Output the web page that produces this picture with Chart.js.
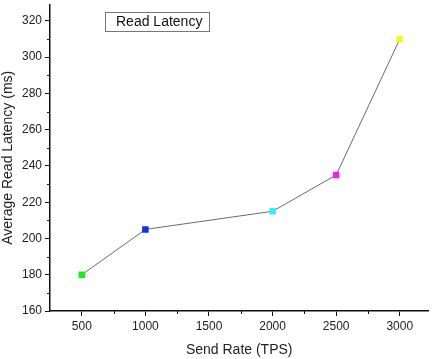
<!DOCTYPE html>
<html>
<head>
<meta charset="utf-8">
<script src="https://cdn.jsdelivr.net/npm/chart.js@4.4.1/dist/chart.umd.min.js"></script>
<style>
  html, body { margin: 0; padding: 0; background: #fff; }
  #wrap { width: 433px; height: 359px; position: relative; }
</style>
</head>
<body>
<div id="wrap"><canvas id="chart"></canvas></div>
<script>
const sendRates = [500, 1000, 2000, 2500, 3000];
const latencies = [180, 205, 215, 235, 310];
const pointColors = ["#14f014", "#1030e8", "#30f0f0", "#f020f0", "#f8f820"];
const xTicks = [500, 1000, 1500, 2000, 2500, 3000];
const xMinor = [750, 1250, 1750, 2250, 2750];
const yTicks = [160, 180, 200, 220, 240, 260, 280, 300, 320];
const yMinor = [170, 190, 210, 230, 250, 270, 290, 310];
const seriesName = "Read Latency";

const FONT = "'Liberation Sans', Arial, sans-serif";

// short minor ticks + the boxed legend, like the Origin plot
const extras = {
  id: "extras",
  afterDraw(chart) {
    const { ctx, scales } = chart;
    const x = scales.x, y = scales.y;
    ctx.save();
    ctx.strokeStyle = "#111";
    ctx.lineWidth = 1;
    ctx.beginPath();
    yMinor.forEach((v) => {
      const py = Math.round(y.getPixelForValue(v)) + 0.5;
      ctx.moveTo(x.left - 3, py);
      ctx.lineTo(x.left, py);
    });
    xMinor.forEach((v) => {
      const px = Math.round(x.getPixelForValue(v)) + 0.5;
      ctx.moveTo(px, y.bottom);
      ctx.lineTo(px, y.bottom + 3);
    });
    ctx.stroke();

    ctx.strokeStyle = "#777";
    ctx.strokeRect(105.5, 12.5, 104, 19);
    ctx.fillStyle = "#111";
    ctx.font = "14px " + FONT;
    ctx.textBaseline = "middle";
    ctx.fillText(seriesName, 116, 22.5);
    ctx.restore();
  },
};

new Chart(document.getElementById("chart"), {
  type: "line",
  data: {
    datasets: [
      {
        label: seriesName,
        data: sendRates.map((s, i) => ({ x: s, y: latencies[i] })),
        borderColor: "#6a6a6a",
        borderWidth: 1,
        pointStyle: "rect",
        pointRadius: 4.6,
        pointHoverRadius: 4.6,
        pointBorderWidth: 0,
        pointBackgroundColor: pointColors,
        tension: 0,
      },
    ],
  },
  options: {
    responsive: true,
    maintainAspectRatio: false,
    animation: false,
    layout: { padding: 0 },
    plugins: { legend: { display: false }, tooltip: { enabled: false } },
    scales: {
      x: {
        type: "linear",
        min: 250,
        max: 3225,
        afterBuildTicks: (s) => { s.ticks = xTicks.map((v) => ({ value: v })); },
        afterFit: (s) => { s.height = 48; s.paddingLeft = 0; s.paddingRight = 0; },
        grid: { drawOnChartArea: false, drawTicks: true, tickLength: 5, color: "#111" },
        border: { display: true, color: "#111", width: 1.5 },
        ticks: { color: "#222", font: { family: FONT, size: 12 }, padding: 3, maxRotation: 0, callback: (v) => String(v) },
        title: { display: true, text: "Send Rate (TPS)", color: "#222", font: { family: FONT, size: 14 }, padding: { top: 2, bottom: 0 } },
      },
      y: {
        min: 160,
        max: 329,
        afterBuildTicks: (s) => { s.ticks = yTicks.map((v) => ({ value: v })); },
        afterFit: (s) => { s.width = 50; s.paddingTop = 0; s.paddingBottom = 0; },
        grid: { drawOnChartArea: false, drawTicks: true, tickLength: 5, color: "#111" },
        border: { display: true, color: "#111", width: 1.5 },
        ticks: { color: "#222", font: { family: FONT, size: 12 }, padding: 3, callback: (v) => String(v) },
        title: { display: true, text: "Average Read Latency (ms)", color: "#222", font: { family: FONT, size: 14 }, padding: { top: 0, bottom: 2 } },
      },
    },
  },
  plugins: [extras],
});
</script>
</body>
</html>
